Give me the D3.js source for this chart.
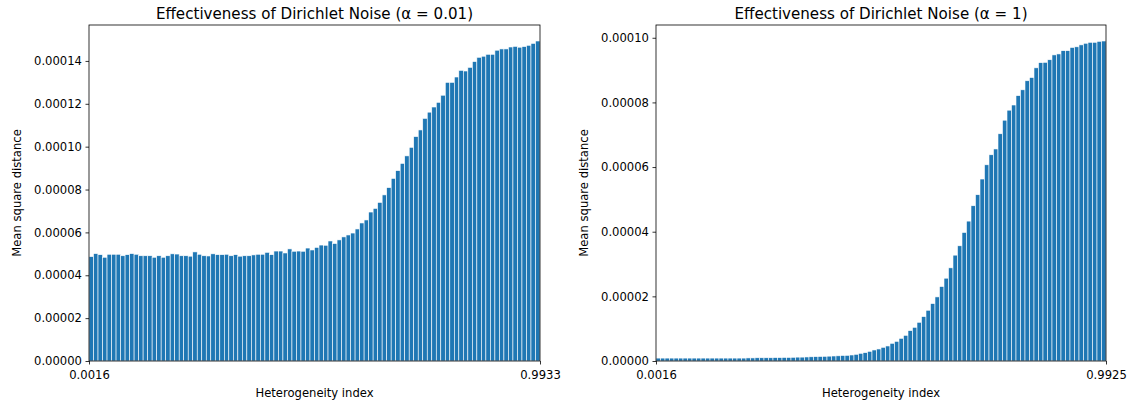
<!DOCTYPE html>
<html>
  <meta charset="utf-8">
  <head>
    <title>Effectiveness of Dirichlet Noise</title>
  </head>
  <style>
    body { margin: 0; background: #fff; }
    text { font-family: "DejaVu Sans", sans-serif; fill: #000; }
    .title { font-size: 15.1px; }
    .label { font-size: 11.6px; }
  </style>
  <script src="https://d3js.org/d3.v7.min.js"></script>
  <body>
    <svg width="1136" height="403"></svg>
    <script>
      // values are in units of 1e-5
      var unit = 1e-5;

      var leftTitle = "Effectiveness of Dirichlet Noise (\u03b1 = 0.01)";
      var leftTicksX = ["0.0016", "0.9933"];
      var leftTicksY = [0, 2, 4, 6, 8, 10, 12, 14];
      var leftValues = [
        4.87, 5.01, 4.96, 4.84, 4.98, 4.98, 4.98, 4.91, 4.96, 5.01,
        4.98, 4.91, 4.91, 4.91, 4.84, 4.91, 4.84, 4.91, 5.00, 4.99,
        4.91, 4.91, 4.89, 5.09, 4.98, 4.91, 4.90, 5.00, 4.96, 4.96,
        4.98, 4.91, 4.96, 4.89, 4.91, 4.91, 4.95, 4.98, 4.98, 5.07,
        4.96, 5.13, 5.13, 5.04, 5.23, 5.12, 5.13, 5.12, 5.27, 5.18,
        5.30, 5.41, 5.40, 5.60, 5.48, 5.65, 5.79, 5.88, 5.97, 6.16,
        6.44, 6.58, 6.95, 7.12, 7.40, 7.75, 8.09, 8.52, 8.88, 9.22,
        9.57, 9.97, 10.47, 10.78, 11.32, 11.61, 11.85, 12.07, 12.40, 13.00,
        13.00, 13.25, 13.56, 13.53, 13.70, 13.97, 14.17, 14.22, 14.31, 14.31,
        14.50, 14.56, 14.56, 14.65, 14.68, 14.64, 14.67, 14.73, 14.82, 14.93
      ];

      var rightTitle = "Effectiveness of Dirichlet Noise (\u03b1 = 1)";
      var rightTicksX = ["0.0016", "0.9925"];
      var rightTicksY = [0, 2, 4, 6, 8, 10];
      var rightValues = [
        0.09, 0.09, 0.09, 0.09, 0.09, 0.09, 0.09, 0.09, 0.09, 0.09,
        0.09, 0.09, 0.09, 0.09, 0.09, 0.09, 0.09, 0.09, 0.09, 0.09,
        0.095, 0.095, 0.10, 0.10, 0.10, 0.10, 0.105, 0.105, 0.11, 0.11,
        0.115, 0.12, 0.12, 0.125, 0.13, 0.135, 0.14, 0.145, 0.15, 0.155,
        0.16, 0.17, 0.175, 0.186, 0.207, 0.238, 0.258, 0.300, 0.341, 0.372,
        0.424, 0.465, 0.548, 0.609, 0.702, 0.795, 0.940, 1.043, 1.198, 1.374,
        1.570, 1.777, 1.983, 2.304, 2.562, 2.882, 3.275, 3.564, 3.977, 4.328,
        4.803, 5.144, 5.63, 6.07, 6.38, 6.56, 7.03, 7.45, 7.76, 7.92,
        8.21, 8.39, 8.67, 8.77, 9.07, 9.23, 9.24, 9.32, 9.47, 9.50,
        9.60, 9.60, 9.70, 9.72, 9.78, 9.83, 9.86, 9.86, 9.89, 9.90
      ];

      var svg = d3.select("svg");
      var plotTop = 25, plotBottom = 361;

      function styleAxis(a) {
        a.attr("font-family", "DejaVu Sans").attr("font-size", 11.6);
        a.select(".domain").remove();
        a.selectAll("line").attr("stroke-width", 0.8);
      }

      function drawPanel(left, right, title, values, ticksY, ticksX) {
        var g = svg.append("g");

        var x = d3.scaleBand()
            .domain(d3.range(values.length))
            .range([left, right])
            .padding(0);

        var y = d3.scaleLinear()
            .domain([0, d3.max(values) * 1.05])
            .range([plotBottom, plotTop]);

        g.append("g").selectAll("rect")
          .data(values)
          .enter().append("rect")
            .attr("x", function(d, i) { return x(i); })
            .attr("y", function(d) { return y(d); })
            .attr("width", x.bandwidth())
            .attr("height", function(d) { return plotBottom - y(d); })
            .attr("fill", "#1f77b4")
            .attr("stroke", "#fff")
            .attr("stroke-width", 0.6);

        // spines
        g.append("rect")
            .attr("x", left).attr("y", plotTop)
            .attr("width", right - left).attr("height", plotBottom - plotTop)
            .attr("fill", "none").attr("stroke", "#000").attr("stroke-width", 0.8);

        var yAxis = d3.axisLeft(y)
            .tickValues(ticksY)
            .tickSize(3.5)
            .tickPadding(3.5)
            .tickFormat(function(d) { return (d * unit).toFixed(5); });
        g.append("g")
            .attr("transform", "translate(" + left + ",0)")
            .call(yAxis)
            .call(styleAxis);

        var xPos = d3.scalePoint().domain(ticksX).range([left, right]);
        g.append("g")
            .attr("transform", "translate(0," + plotBottom + ")")
            .call(d3.axisBottom(xPos).tickSize(3.5).tickPadding(6))
            .call(styleAxis);

        g.append("text")
            .attr("class", "title")
            .attr("x", (left + right) / 2)
            .attr("y", 19)
            .attr("text-anchor", "middle")
            .text(title);

        g.append("text")
            .attr("class", "label")
            .attr("x", (left + right) / 2)
            .attr("y", 397)
            .attr("text-anchor", "middle")
            .text("Heterogeneity index");

        g.append("text")
            .attr("class", "label")
            .attr("transform", "translate(" + (left - 68) + "," + ((plotTop + plotBottom) / 2) + ") rotate(-90)")
            .attr("text-anchor", "middle")
            .text("Mean square distance");
      }

      drawPanel(89, 540, leftTitle, leftValues, leftTicksY, leftTicksX);
      drawPanel(656, 1106, rightTitle, rightValues, rightTicksY, rightTicksX);
    </script>
  </body>
</html>
